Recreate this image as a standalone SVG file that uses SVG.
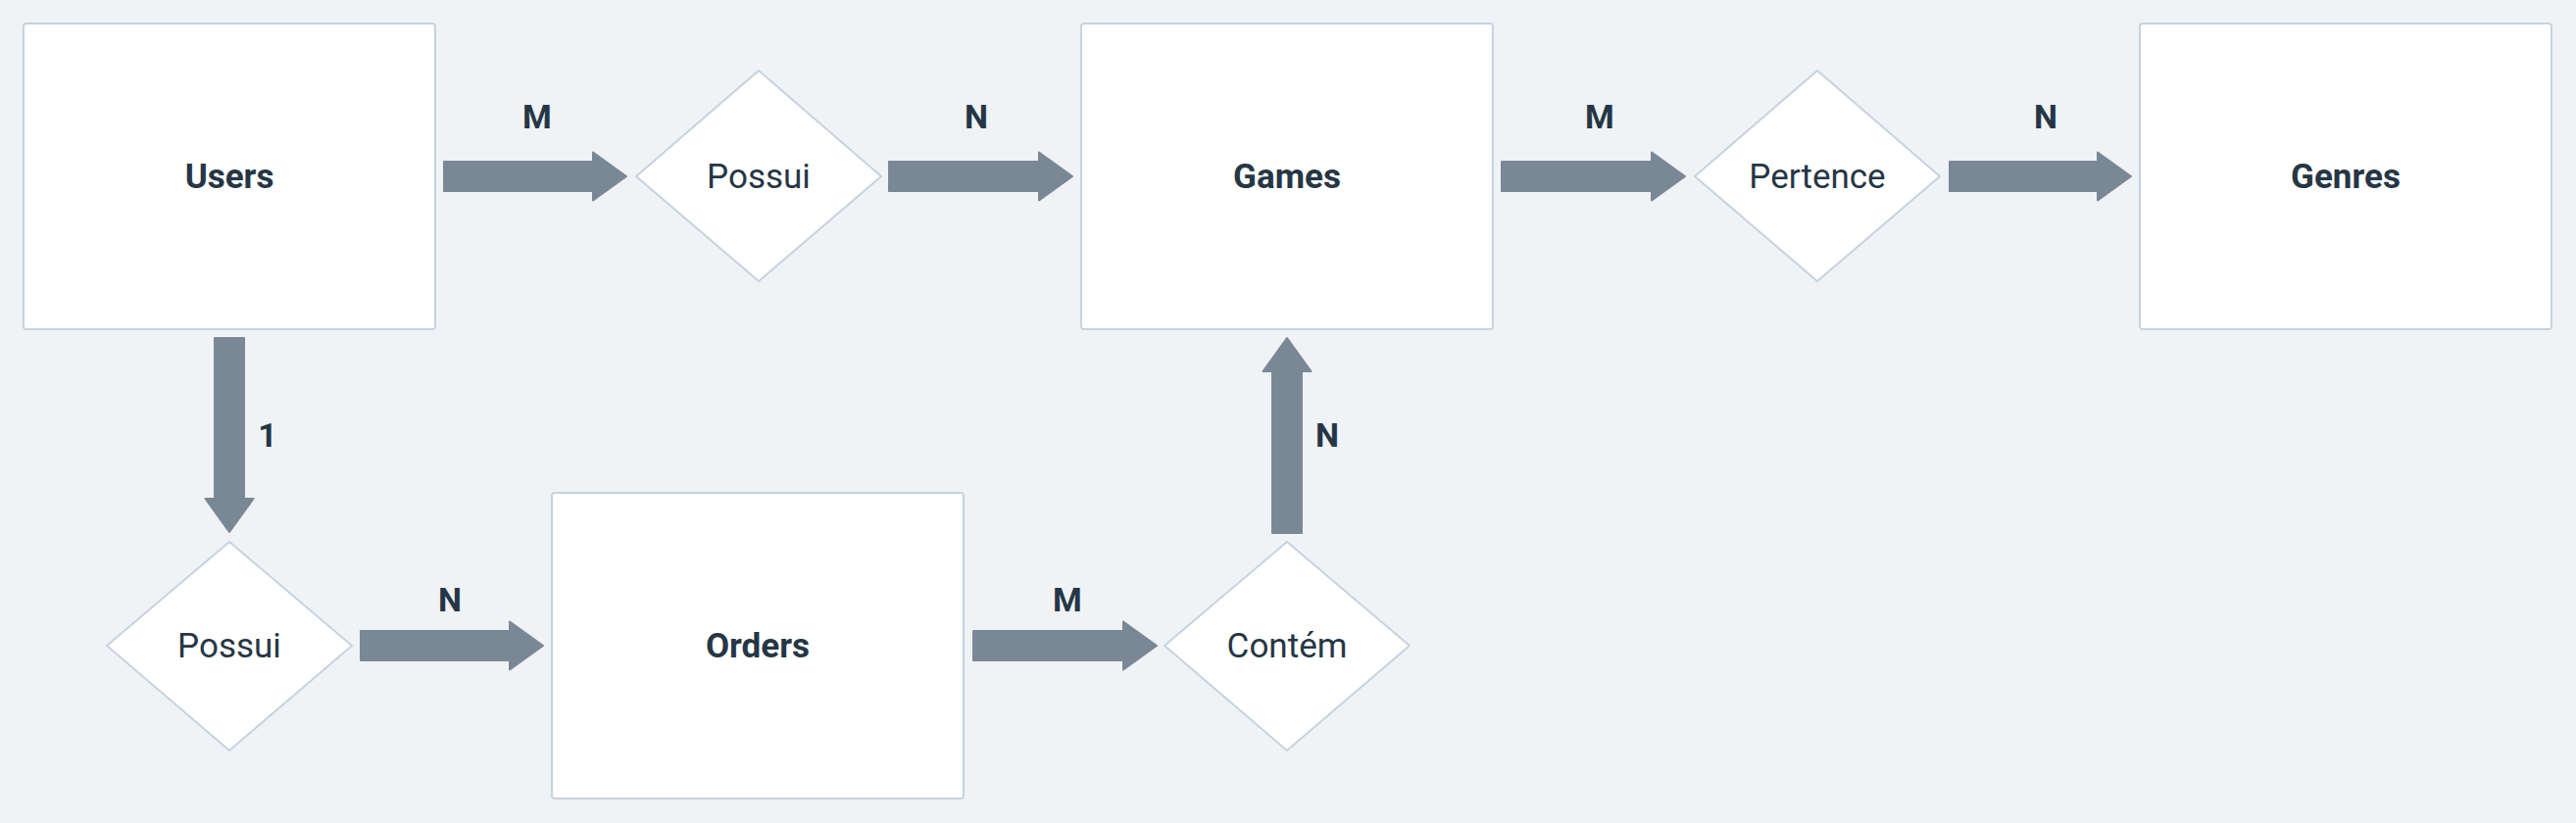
<svg xmlns="http://www.w3.org/2000/svg" width="2628" height="840" viewBox="0 0 2628 840">
<style>
.ent{fill:#ffffff;stroke:#c6d3df;stroke-width:2}
.rel{fill:#ffffff;stroke:#c6d3df;stroke-width:2;stroke-linejoin:round}
.arr{fill:#7a8896;stroke:#7a8896;stroke-width:2;stroke-linejoin:round}
.et{font-family:Roboto,"Liberation Sans",sans-serif;font-weight:bold;font-size:35px;fill:#263645;text-anchor:middle;dominant-baseline:central}
.rt{font-family:Roboto,"Liberation Sans",sans-serif;font-size:35px;fill:#263645;text-anchor:middle;dominant-baseline:central}
.lb{font-family:Roboto,"Liberation Sans",sans-serif;font-weight:bold;font-size:34px;fill:#263645;text-anchor:middle;dominant-baseline:central}
</style>
<rect width="2628" height="840" fill="#eff3f6"/>
<g id="connectors">
<path class="arr" d="M453,165 H605 V155.5 L639,180 L605,204.5 V195 H453 Z"/>
<text class="lb" x="548" y="119">M</text>
<path class="arr" d="M907,165 H1060 V155.5 L1094,180 L1060,204.5 V195 H907 Z"/>
<text class="lb" x="996" y="119">N</text>
<path class="arr" d="M1532,165 H1685 V155.5 L1719,180 L1685,204.5 V195 H1532 Z"/>
<text class="lb" x="1632" y="119">M</text>
<path class="arr" d="M1989,165 H2140 V155.5 L2174,180 L2140,204.5 V195 H1989 Z"/>
<text class="lb" x="2087" y="119">N</text>
<path class="arr" d="M219,345 V509 H209.5 L234,543 L258.5,509 H249 V345 Z"/>
<text class="lb" x="273" y="444">1</text>
<path class="arr" d="M368,644 H520 V634.5 L554,659 L520,683.5 V674 H368 Z"/>
<text class="lb" x="459" y="612">N</text>
<path class="arr" d="M993,644 H1146 V634.5 L1180,659 L1146,683.5 V674 H993 Z"/>
<text class="lb" x="1089" y="612">M</text>
<path class="arr" d="M1298,544 V379 H1288.5 L1313,345 L1337.5,379 H1328 V544 Z"/>
<text class="lb" x="1354" y="444">N</text>
</g>
<g id="users"><rect class="ent" x="24" y="24" width="420" height="312" rx="3"/><text class="et" x="234" y="180">Users</text></g>
<g id="possui1"><polygon class="rel" points="774,72 899,180 774,287 649,180"/><text class="rt" x="774" y="180">Possui</text></g>
<g id="games"><rect class="ent" x="1103" y="24" width="420" height="312" rx="3"/><text class="et" x="1313" y="180">Games</text></g>
<g id="pertence"><polygon class="rel" points="1854,72 1979,180 1854,287 1729,180"/><text class="rt" x="1854" y="180">Pertence</text></g>
<g id="genres"><rect class="ent" x="2183" y="24" width="420" height="312" rx="3"/><text class="et" x="2393" y="180">Genres</text></g>
<g id="possui2"><polygon class="rel" points="234,553 359,659 234,766 109,659"/><text class="rt" x="234" y="659">Possui</text></g>
<g id="orders"><rect class="ent" x="563" y="503" width="420" height="312" rx="3"/><text class="et" x="773" y="659">Orders</text></g>
<g id="contem"><polygon class="rel" points="1313,553 1438,659 1313,766 1188,659"/><text class="rt" x="1313" y="659">Contém</text></g>
</svg>
